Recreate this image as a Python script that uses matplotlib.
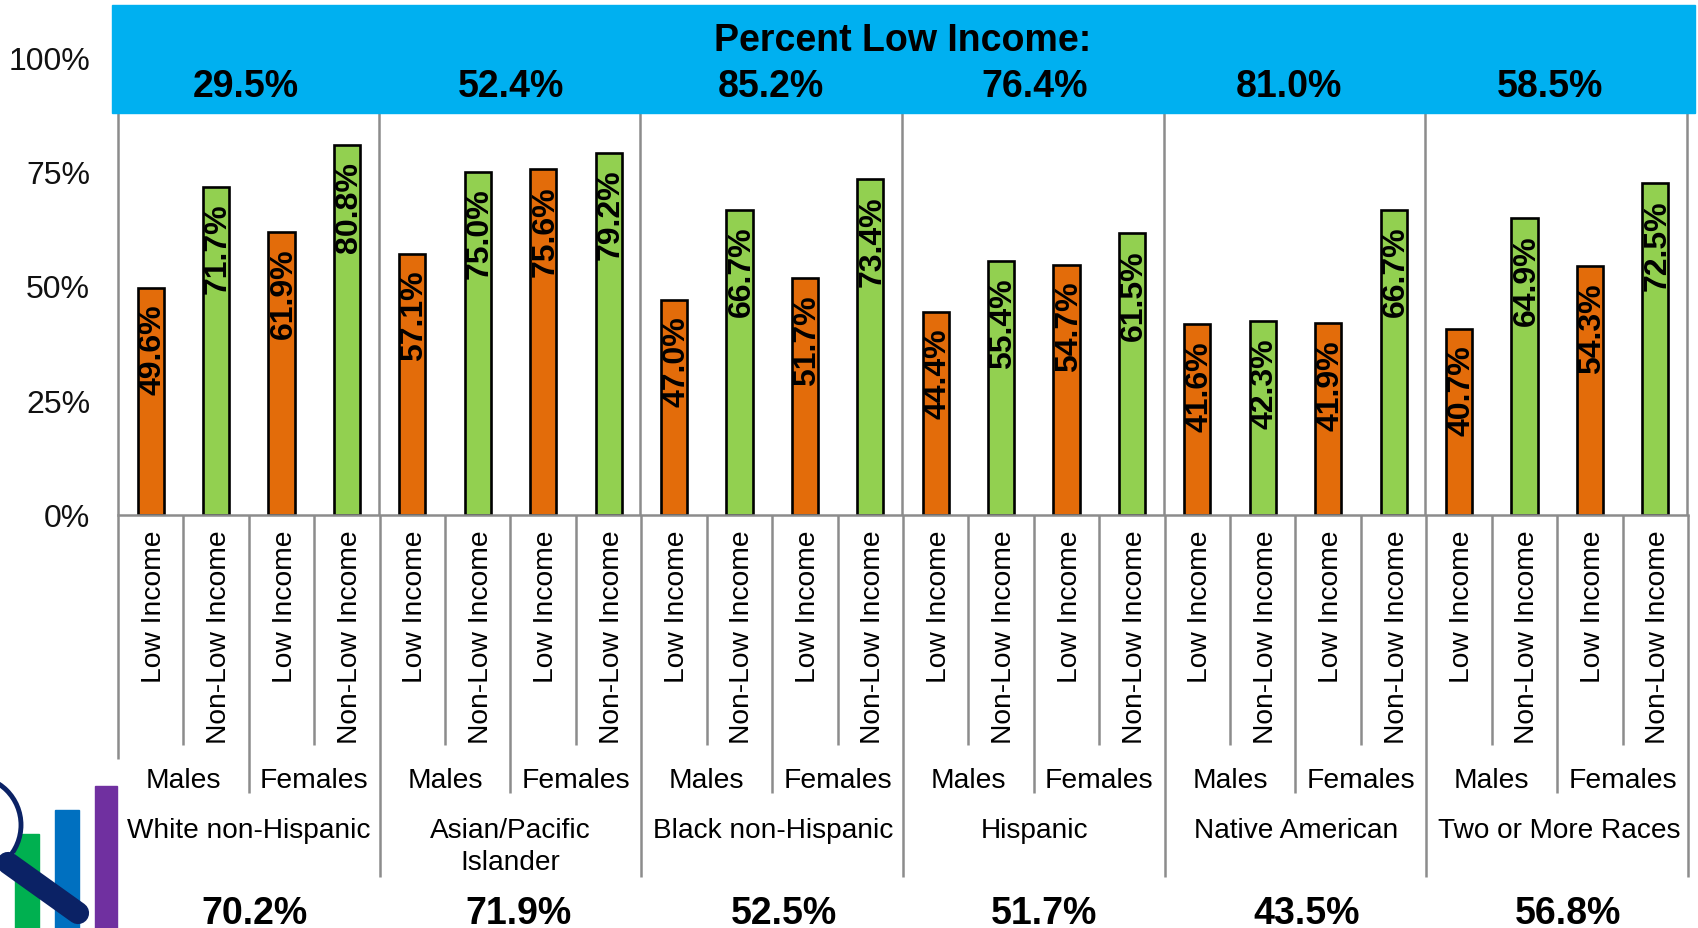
import matplotlib
matplotlib.use("Agg")
import matplotlib.pyplot as plt
from matplotlib.patches import Circle, Rectangle
from matplotlib.transforms import ScaledTranslation

plt.rcParams["font.family"] = ["Liberation Sans", "DejaVu Sans"]

# -----------------------------
# Data
# -----------------------------
groups = ["White non-Hispanic", "Asian/Pacific\nIslander", "Black non-Hispanic",
          "Hispanic", "Native American", "Two or More Races"]
sexes = ["Males", "Females"]
incomes = ["Low Income", "Non-Low Income"]

values = [49.6, 71.7, 61.9, 80.8,
          57.1, 75.0, 75.6, 79.2,
          47.0, 66.7, 51.7, 73.4,
          44.4, 55.4, 54.7, 61.5,
          41.6, 42.3, 41.9, 66.7,
          40.7, 64.9, 54.3, 72.5]

percent_low_income = ["29.5%", "52.4%", "85.2%", "76.4%", "81.0%", "58.5%"]
bottom_percent = ["70.2%", "71.9%", "52.5%", "51.7%", "43.5%", "56.8%"]
y_ticks = [0, 25, 50, 75, 100]

# -----------------------------
# Layout, in full-size pixels
# -----------------------------
W, H = 1698, 929
left, right = 118, 1688
y0, y100 = 515.5, 58.5
bar_step = (right - left) / 24

orange = "#e36c0a"
green = "#92d050"
band_blue = "#00b0f0"
grey = "#8c8c8c"

fig = plt.figure(figsize=(W / 100, H / 100), dpi=100, facecolor="white")

# main axes: the bars
ax = fig.add_axes([left / W, 1 - y0 / H, (right - left) / W, (y0 - y100) / H])
ax.set_xlim(0, 24)
ax.set_ylim(0, 100)
for s in ax.spines.values():
    s.set_visible(False)

xs = [i + 0.5 for i in range(24)]
colors = [orange if i % 2 == 0 else green for i in range(24)]
ax.bar(xs, values, width=0.40, color=colors, edgecolor="black", linewidth=1.9, zorder=3)

for x, v in zip(xs, values):
    ax.annotate(f"{v:.1f}%", (x, v), xytext=(2, -16), textcoords="offset pixels",
                rotation=90, ha="center", va="top", fontsize=23,
                fontweight="bold", color="black", zorder=4)

ax.set_yticks(y_ticks, [f"{t}%" for t in y_ticks])
ax.tick_params(axis="y", length=0, pad=20, labelsize=23, labelcolor="#111111")
ax.set_xticks(xs, [incomes[i % 2] for i in range(24)])
ax.tick_params(axis="x", length=0, pad=11, labelsize=20.3, labelrotation=90, labelcolor="black")

# the rotated labels sit a little right of the bar centre
nudge = ScaledTranslation(3 / 100, 0, fig.dpi_scale_trans)
for lab in ax.get_xticklabels():
    lab.set_transform(lab.get_transform() + nudge)

# overlay axes in pixel coordinates: category frame, band, outer labels, logo
ov = fig.add_axes([0, 0, 1, 1], zorder=5)
ov.set_xlim(0, W)
ov.set_ylim(H, 0)
ov.axis("off")
ov.patch.set_alpha(0)

# logo bottom left
ov.add_patch(Rectangle((15, 835), 24, 100, color="#00b050"))
ov.add_patch(Rectangle((55, 811), 24, 120, color="#0070c0"))
ov.add_patch(Rectangle((95, 787), 22, 145, color="#7030a0"))
ov.add_patch(Circle((-28, 826), 49, facecolor="white", edgecolor="#0b2265", linewidth=3.5))
ov.plot([8, 78], [864, 914], color="#0b2265", linewidth=16, solid_capstyle="round")


def line(x, y1, y2, lw=1.8):
    ov.plot([x, x], [y1, y2], color=grey, linewidth=lw, solid_capstyle="butt")


# baseline and frame
ov.plot([left, right], [y0, y0], color=grey, linewidth=1.8)
for g in range(7):
    gx = left + g * 4 * bar_step
    line(gx - (1 if g else 0), 114, y0)
    line(gx, y0, 878 if g else 760)
for i in range(24):
    if i % 4 == 0:
        continue
    bx = left + i * bar_step
    if i % 2 == 0:
        line(bx, y0, 794)
    else:
        line(bx, y0, 746)

# sex labels and group labels
for g in range(6):
    gx = left + g * 4 * bar_step
    for k, sex in enumerate(sexes):
        ov.text(gx + (k * 2 + 1) * bar_step, 781, sex, ha="center", va="center", fontsize=20.3)

group_x = [249, 510, 773, 1035, 1296, 1559]
for cx, name in zip(group_x, groups):
    ov.text(cx, 818, name, ha="center", va="top", fontsize=20.2, linespacing=1.32)

# blue band
ov.add_patch(Rectangle((112, 6), 1583, 108, color=band_blue, zorder=6))
ov.text(903, 41, "Percent Low Income:", ha="center", va="center", fontsize=27,
        fontweight="bold", color="black", zorder=7)
top_x = [246, 511, 771, 1035, 1289, 1550]
for cx, t in zip(top_x, percent_low_income):
    ov.text(cx, 87, t, ha="center", va="center", fontsize=27, fontweight="bold", zorder=7)

bottom_x = [255, 519, 784, 1044, 1307, 1568]
for cx, t in zip(bottom_x, bottom_percent):
    ov.text(cx, 924, t, ha="center", va="baseline", fontsize=27, fontweight="bold")

fig.savefig("out.png", dpi=100)
